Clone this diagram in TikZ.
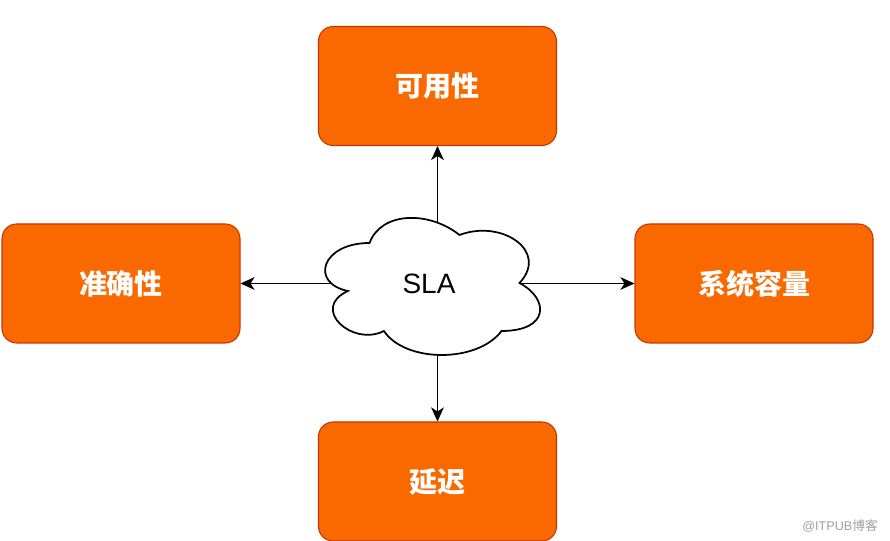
\documentclass[tikz,border=0pt]{standalone}
\usepackage{fontspec}
\setmainfont{Liberation Sans}
\newfontfamily\cjk{Noto Sans CJK SC}
\usetikzlibrary{arrows.meta}
\definecolor{boxfill}{HTML}{FA6800}
\definecolor{boxline}{HTML}{C73500}
\definecolor{wmgray}{HTML}{A0A0A0}
\begin{document}
\begin{tikzpicture}[x=0.75pt,y=-0.75pt,
  boxnode/.style={draw=boxline, fill=boxfill, line width=0.8pt, rounded corners=11pt,
    minimum width=178.5pt, minimum height=89.25pt, inner sep=0pt,
    text=white, font=\cjk\bfseries\fontsize{21}{24}\selectfont},
  conn/.style={draw=black, line width=1.3pt, -{Stealth[length=10.5pt,width=9.5pt,inset=3pt]}},
  cloudline/.style={draw=black, line width=1.3pt, fill=white}]
\useasboundingbox (0,0) rectangle (890,541);
\fill[white] (0,0) rectangle (890,541);
% boxes
\node[boxnode] (avail) at (437.5,86) {可用性};
\node[boxnode] (acc) at (121,283.5) {准确性};
\node[boxnode] (cap) at (754,283.5) {系统容量};
\node[boxnode] (lat) at (437.5,481.5) {延迟};
% cloud (x0=309.5, y0=203, w=240, h=160)
\begin{scope}[shift={(309.5,203)}, x=180pt, y=-120pt]
\path[cloudline] (0.25,0.25)
  .. controls (0.05,0.25) and (0,0.5) .. (0.16,0.55)
  .. controls (0,0.66) and (0.18,0.9) .. (0.31,0.8)
  .. controls (0.4,1) and (0.7,1) .. (0.8,0.8)
  .. controls (1,0.8) and (1,0.6) .. (0.875,0.5)
  .. controls (1,0.3) and (0.8,0.1) .. (0.625,0.2)
  .. controls (0.5,0.05) and (0.3,0.05) .. (0.25,0.25) -- cycle;
\end{scope}
\node[font=\fontsize{21}{24}\selectfont, inner sep=0pt] (sla) at (429,284) {SLA};
\coordinate (cT) at (437.5,222.5);
\coordinate (cB) at (437.5,355);
\coordinate (cL) at (331,283.5);
\coordinate (cR) at (519,283.5);
% connectors
\draw[conn] (cT) -- (avail.south);
\draw[conn] (cB) -- (lat.north);
\draw[conn] (cL) -- (acc.east);
\draw[conn] (cR) -- (cap.west);
% watermark
\node[text=wmgray, font=\fontsize{9.5}{11}\selectfont, inner sep=0pt] (wm) at (840,526) {@ITPUB{\cjk 博客}};
\end{tikzpicture}
\end{document}
